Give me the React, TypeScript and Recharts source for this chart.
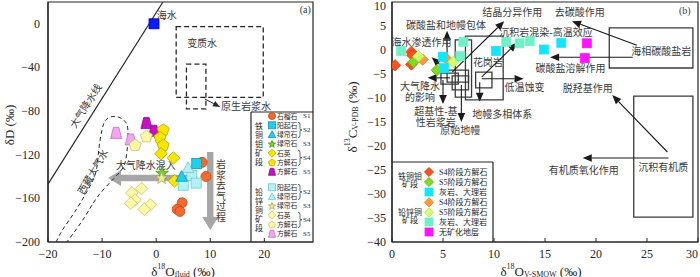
import React from 'react';
import {
  ScatterChart, Scatter, XAxis, YAxis, ReferenceLine, ReferenceArea, ReferenceDot, Customized,
} from 'recharts';

const SERIF = "'Liberation Serif', 'DejaVu Serif', serif";
const CN = "'Liberation Serif', 'Noto Sans CJK SC', sans-serif";
const INK = '#262626';
const TXT = '#3a3a3a';

// ---------------- Panel (a): δD vs δ18O fluid ----------------
const leftXDomain = [-20, 29];
const leftYDomain = [-200, 20];
const leftXTicks = [-20, -10, 0, 10, 20];
const leftYTicks = [-200, -160, -120, -80, -40, 0];

const seaWater = [{ x: -0.4, y: 0 }];
const feGarnetS1 = [{ x: 8.5, y: -127 }, { x: 9.2, y: -140 }, { x: 4.8, y: -164 }, { x: 3.9, y: -170 }, { x: 4.4, y: -172 }];
const feActinoliteS2 = [{ x: 7.5, y: -128 }];
const feEpidoteS2 = [{ x: 4.7, y: -140 }];
const feEpidoteS3 = [{ x: 1.1, y: -136.5 }];
const feQuartzS4 = [{ x: 0.9, y: -119 }, { x: 3.2, y: -123 }, { x: 3.4, y: -144 }];
const feCalciteS4 = [{ x: 1.3, y: -97 }, { x: 0.7, y: -104 }, { x: 1.3, y: -111 }];
const feCalciteS5 = [{ x: -1.8, y: -91 }, { x: -0.4, y: -98 }];
const pbActinoliteS2 = [{ x: 6.6, y: -139 }, { x: 5.0, y: -148 }, { x: 7.4, y: -146 }];
const pbEpidoteS2 = [{ x: 5.9, y: -132 }];
const pbEpidoteS3 = [{ x: 1.0, y: -141 }];
const pbQuartzS4 = [{ x: -2.7, y: -151 }, { x: -4.5, y: -155 }, { x: -3.9, y: -161.5 }, { x: -4.7, y: -164.5 }, { x: -1.1, y: -166 }, { x: -2.2, y: -170 }];
const pbCalciteS4 = [{ x: -1.8, y: -103 }, { x: -3.9, y: -111 }];
const pbCalciteS5 = [{ x: -7.4, y: -100 }, { x: -4.7, y: -106 }];

const tibetCurve = [
  { x: -18.5, y: -200 }, { x: -17.2, y: -188 }, { x: -15.0, y: -172 }, { x: -12.6, y: -152 },
  { x: -11.1, y: -135 }, { x: -10.6, y: -115 }, { x: -10.0, y: -97 }, { x: -9.3, y: -88 },
  { x: -8.0, y: -85 }, { x: -6.7, y: -86 }, { x: -5.6, y: -90.5 }, { x: -5.2, y: -101.5 },
  { x: -5.6, y: -124 }, { x: -7.1, y: -138 }, { x: -10.6, y: -157 }, { x: -13.2, y: -177 }, { x: -16.5, y: -200 },
];
const meteoricLine = [{ x: -20, y: -147 }, { x: 1.25, y: 20 }];
const leftDashedBoxes = [
  { x1: 3.7, x2: 19.8, y1: -67.5, y2: -2.5 },
  { x1: 5.6, x2: 9.2, y1: -78, y2: -37 },
];
const leftThinArrows = [{ x1: 9.0, y1: -68.9, x2: 11.8, y2: -76.2 }];
const leftBlockArrows = [
  { x1: 5.7, y1: -141.3, x2: -8.9, y2: -141.3 },
  { x1: 10.0, y1: -117.5, x2: 10.0, y2: -189 },
];
const leftTexts = [
  { t: '海水', x: 0.1, y: 8, anchor: 'start', rot: 0 },
  { t: '变质水', x: 8.5, y: -17.6, anchor: 'middle', rot: 0 },
  { t: '原生岩浆水', x: 12.0, y: -76.2, anchor: 'start', rot: 0 },
  { t: '大气降水线', x: -13.0, y: -75.3, anchor: 'middle', rot: -57.6 },
  { t: '西藏大气水', x: -11.7, y: -135.8, anchor: 'middle', rot: -60 },
  { t: '大气降水混入', x: -1.9, y: -130.3, anchor: 'middle', rot: 0 },
  { t: '(a)', x: 28.6, y: 12.7, anchor: 'end', rot: 0 },
];
const degassingText = { t: '岩浆去气过程', x: 12.0, y: -153.3 };

// ---------------- Panel (b): δ13C vs δ18O ----------------
const rightXDomain = [0, 30];
const rightYDomain = [-40, 10];
const rightXTicks = [0, 5, 10, 15, 20, 25, 30];
const rightYTicks = [-40, -35, -30, -25, -20, -15, -10, -5, 0, 5, 10];

const feS4Calcite = [{ x: 0.3, y: -3.2 }, { x: 1.9, y: -0.4 }, { x: 2.0, y: -1.1 }, { x: 1.9, y: -3.0 }];
const feS5Calcite = [{ x: 2.1, y: -2.5 }, { x: 4.4, y: -4.2 }];
const feLimestone = [{ x: 5.0, y: -1.4 }, { x: 5.1, y: -3.8 }, { x: 10.2, y: -0.2 }, { x: 14.9, y: 0.1 }, { x: 16.6, y: 1.5 }];
const pbS4Calcite = [{ x: 3.0, y: -2.0 }, { x: 5.4, y: -2.0 }];
const pbS5Calcite = [{ x: 2.6, y: -1.3 }, { x: 6.0, y: -2.5 }];
const pbLimestone = [{ x: 0.9, y: -0.2 }, { x: 6.7, y: -1.3 }, { x: 7.0, y: 1.7 }, { x: 11.2, y: 1.7 }, { x: 12.5, y: 1.4 }, { x: 13.5, y: 1.9 }];
const barrenStrata = [{ x: 19.1, y: 1.4 }, { x: 18.9, y: -1.7 }];

const rightBoxes = [
  { x1: 21.3, x2: 29.5, y1: -3.75, y2: 4.6 },
  { x1: 23.7, x2: 29.5, y1: -34.8, y2: -9.6 },
  { x1: 7.2, x2: 10.9, y1: -10.4, y2: 2.9 },
  { x1: 6.2, x2: 7.8, y1: -9.8, y2: 2.1 },
  { x1: 4.8, x2: 6.5, y1: -7.1, y2: -4.8 },
  { x1: 5.4, x2: 7.5, y1: -6.7, y2: -4.2 },
  { x1: 5.9, x2: 7.5, y1: -8.3, y2: -5.4 },
  { x1: 8.2, x2: 9.8, y1: -7.9, y2: -4.6 },
];
const rightArrows = [
  { x1: 5.4, y1: -4.2, x2: 5.4, y2: 4.0 },
  { x1: 5.5, y1: -4.6, x2: 3.9, y2: -1.5 },
  { x1: 5.7, y1: -5.8, x2: 3.5, y2: -5.8 },
  { x1: 5.0, y1: -6.25, x2: 5.0, y2: -11.25 },
  { x1: 6.8, y1: -7.3, x2: 6.8, y2: -15.0 },
  { x1: 8.6, y1: -6.7, x2: 8.6, y2: -10.8 },
  { x1: 5.9, y1: -4.6, x2: 11.0, y2: 6.0 },
  { x1: 8.8, y1: -5.6, x2: 12.25, y2: 1.5 },
  { x1: 8.8, y1: -6.0, x2: 12.9, y2: -6.0 },
  { x1: 24.0, y1: 1.0, x2: 17.65, y2: 6.0 },
  { x1: 23.6, y1: -1.5, x2: 15.5, y2: -1.5 },
  { x1: 27.0, y1: -21.25, x2: 21.6, y2: -9.4 },
  { x1: 27.1, y1: -22.5, x2: 18.7, y2: -22.5 },
];
const rightTexts = [
  { t: '碳酸盐和地幔包体', x: 5.3, y: 5.2 },
  { t: '结晶分异作用', x: 11.8, y: 7.9 },
  { t: '去碳酸作用', x: 18.4, y: 7.9 },
  { t: '沉积岩混染-高温效应', x: 15.1, y: 3.75 },
  { t: '海水渗透作用', x: 2.9, y: 1.5 },
  { t: '海相碳酸盐岩', x: 26.4, y: -0.4 },
  { t: '花岗岩', x: 9.4, y: -2.5 },
  { t: '碳酸盐溶解作用', x: 17.5, y: -3.75 },
  { t: '低温蚀变', x: 13.0, y: -7.9 },
  { t: '脱羟基作用', x: 19.2, y: -8.1 },
  { t: '大气降水', x: 2.75, y: -7.7 },
  { t: '的影响', x: 2.75, y: -9.8 },
  { t: '超基性-基', x: 4.3, y: -12.9 },
  { t: '性岩浆岩', x: 4.3, y: -15.0 },
  { t: '地幔多相体系', x: 10.8, y: -13.5 },
  { t: '原始地幔', x: 6.7, y: -16.7 },
  { t: '有机质氧化作用', x: 18.8, y: -25.0 },
  { t: '沉积有机质', x: 26.6, y: -24.4 },
  { t: '(b)', x: 28.7, y: 8.3 },
];

// ---------------- styles ----------------
const ST = {
  sea: { kind: 'square', fill: '#0a1cff', stroke: '#0000a0', size: 10 },
  garnet: { kind: 'circle', fill: '#f26a2e', stroke: '#c0441a', size: 10 },
  feCyanSq: { kind: 'square', fill: '#1fd0ea', stroke: '#0a9ab5', size: 10 },
  feCyanTri: { kind: 'triangle', fill: '#1fd0ea', stroke: '#0a9ab5', size: 11 },
  feStar: { kind: 'star', fill: '#7bd321', stroke: '#4a9010', size: 12 },
  feDia: { kind: 'diamond', fill: '#f7e600', stroke: '#b8a800', size: 11 },
  fePent: { kind: 'pentagon', fill: '#f7e600', stroke: '#b8a800', size: 12 },
  feTrap: { kind: 'trapezoid', fill: '#c412c4', stroke: '#8a0a8a', size: 11 },
  pbCyanSq: { kind: 'square', fill: '#b2f1f5', stroke: '#6fc8d0', size: 10 },
  pbCyanTri: { kind: 'triangle', fill: '#b2f1f5', stroke: '#6fc8d0', size: 11 },
  pbStar: { kind: 'star', fill: '#eaea9a', stroke: '#a8a860', size: 12 },
  pbDia: { kind: 'diamond', fill: '#fdf7a6', stroke: '#c8c070', size: 11 },
  pbPent: { kind: 'pentagon', fill: '#fdf7a6', stroke: '#c8c070', size: 12 },
  pbTrap: { kind: 'trapezoid', fill: '#f3a6ef', stroke: '#c070c0', size: 11 },
  rFeS4: { kind: 'diamond', fill: '#f4531f', stroke: '#d04010', size: 10 },
  rFeS5: { kind: 'diamond', fill: '#7fdc1c', stroke: '#60b010', size: 10 },
  rFeLime: { kind: 'square', fill: '#12e6ff', stroke: '#12e6ff', size: 9 },
  rPbS4: { kind: 'diamond', fill: '#ff9a3c', stroke: '#e08020', size: 10 },
  rPbS5: { kind: 'diamond', fill: '#d4ff70', stroke: '#b0e050', size: 10 },
  rPbLime: { kind: 'square', fill: '#70f0c8', stroke: '#70f0c8', size: 9 },
  rBarren: { kind: 'square', fill: '#ff14ff', stroke: '#ff14ff', size: 9 },
};

const leftSeries = [
  { data: seaWater, st: ST.sea },
  { data: feCalciteS5, st: ST.feTrap },
  { data: pbCalciteS5, st: ST.pbTrap },
  { data: pbCalciteS4, st: ST.pbPent },
  { data: feCalciteS4, st: ST.fePent },
  { data: pbQuartzS4, st: ST.pbDia },
  { data: feQuartzS4, st: ST.feDia },
  { data: feGarnetS1, st: ST.garnet },
  { data: pbActinoliteS2, st: ST.pbCyanSq },
  { data: pbEpidoteS2, st: ST.pbCyanTri },
  { data: feActinoliteS2, st: ST.feCyanSq },
  { data: feEpidoteS2, st: ST.feCyanTri },
  { data: feEpidoteS3, st: ST.feStar },
  { data: pbEpidoteS3, st: ST.pbStar },
];
const rightSeries = [
  { data: feS4Calcite, st: ST.rFeS4 },
  { data: feS5Calcite, st: ST.rFeS5 },
  { data: pbS4Calcite, st: ST.rPbS4 },
  { data: pbS5Calcite, st: ST.rPbS5 },
  { data: feLimestone, st: ST.rFeLime },
  { data: pbLimestone, st: ST.rPbLime },
  { data: barrenStrata, st: ST.rBarren },
];

function marker(st: any, cx: number, cy: number, sizeOverride?: number) {
  const s = sizeOverride ?? st.size;
  const h = s / 2;
  const common = { fill: st.fill, stroke: st.stroke, strokeWidth: 0.8 };
  const poly = (pts: number[][]) => <polygon points={pts.map((p) => p.join(',')).join(' ')} {...common} />;
  switch (st.kind) {
    case 'circle':
      return <circle cx={cx} cy={cy} r={h} {...common} />;
    case 'square':
      return <rect x={cx - h} y={cy - h} width={s} height={s} {...common} />;
    case 'triangle':
      return poly([[cx, cy - h * 1.1], [cx + h * 1.05, cy + h * 0.85], [cx - h * 1.05, cy + h * 0.85]]);
    case 'diamond':
      return poly([[cx, cy - h * 1.15], [cx + h * 1.15, cy], [cx, cy + h * 1.15], [cx - h * 1.15, cy]]);
    case 'trapezoid':
      return poly([[cx - h * 0.5, cy - h], [cx + h * 0.5, cy - h], [cx + h, cy + h], [cx - h, cy + h]]);
    case 'pentagon': {
      const pts = [];
      for (let i = 0; i < 5; i++) {
        const a = -Math.PI / 2 + (i * 2 * Math.PI) / 5;
        pts.push([cx + h * 1.05 * Math.cos(a), cy + h * 1.05 * Math.sin(a) + h * 0.08]);
      }
      return poly(pts);
    }
    case 'star': {
      const pts = [];
      for (let i = 0; i < 10; i++) {
        const a = -Math.PI / 2 + (i * Math.PI) / 5;
        const r = i % 2 === 0 ? h * 1.1 : h * 0.45;
        pts.push([cx + r * Math.cos(a), cy + r * Math.sin(a) + h * 0.1]);
      }
      return poly(pts);
    }
    default:
      return <circle cx={cx} cy={cy} r={h} {...common} />;
  }
}

const fmt = (v: number) => (v < 0 ? '\u2212' + Math.abs(v) : String(v));

const makeXTick = (maxX: number) => (p: any) => {
  const { x, y, payload } = p;
  const tx = Math.min(x, maxX);
  return (
    <g>
      <line x1={x} x2={x} y1={y} y2={y - 4} stroke={INK} strokeWidth={1} />
      <text x={tx} y={y + 12} textAnchor="middle" dominantBaseline="central" fontSize={12} fontFamily={SERIF} fill={INK}>
        {fmt(payload.value)}
      </text>
    </g>
  );
};
const makeYTick = (gap: number) => (p: any) => {
  const { x, y, payload } = p;
  return (
    <text x={x - gap} y={Math.max(y, 6)} textAnchor="end" dominantBaseline="central" fontSize={12} fontFamily={SERIF} fill={INK}>
      {fmt(payload.value)}
    </text>
  );
};

const textShape = (t: string, anchor = 'middle', rot = 0, size = 10) => (p: any) => (
  <text
    x={p.cx}
    y={p.cy}
    textAnchor={anchor as any}
    dominantBaseline="central"
    fontSize={size}
    fontFamily={CN}
    fill={TXT}
    transform={rot ? `rotate(${rot} ${p.cx} ${p.cy})` : undefined}
  >
    {t}
  </text>
);

const verticalTextShape = (t: string) => (p: any) => (
  <g>
    {t.split('').map((c, i) => (
      <text key={i} x={p.cx} y={p.cy + (i - (t.length - 1) / 2) * 10.5} textAnchor="middle" dominantBaseline="central" fontSize={10} fontFamily={CN} fill={TXT}>
        {c}
      </text>
    ))}
  </g>
);

const thinArrow = (headLen: number, headHalf: number, color: string, width: number) => (p: any) => {
  const { x1, y1, x2, y2 } = p;
  const dx = x2 - x1;
  const dy = y2 - y1;
  const L = Math.hypot(dx, dy) || 1;
  const ux = dx / L;
  const uy = dy / L;
  const bx = x2 - ux * headLen;
  const by = y2 - uy * headLen;
  const nx = -uy;
  const ny = ux;
  return (
    <g>
      <line x1={x1} y1={y1} x2={bx} y2={by} stroke={color} strokeWidth={width} />
      <polygon points={`${x2},${y2} ${bx + nx * headHalf},${by + ny * headHalf} ${bx - nx * headHalf},${by - ny * headHalf}`} fill={color} />
    </g>
  );
};

const blockArrow = (color: string) => (p: any) => {
  const { x1, y1, x2, y2 } = p;
  const dx = x2 - x1;
  const dy = y2 - y1;
  const L = Math.hypot(dx, dy) || 1;
  const ux = dx / L;
  const uy = dy / L;
  const nx = -uy;
  const ny = ux;
  const hl = 13;
  const hw = 8;
  const sw = 3.2;
  const bx = x2 - ux * hl;
  const by = y2 - uy * hl;
  const pts = [
    [x1 + nx * sw, y1 + ny * sw], [bx + nx * sw, by + ny * sw], [bx + nx * hw, by + ny * hw], [x2, y2],
    [bx - nx * hw, by - ny * hw], [bx - nx * sw, by - ny * sw], [x1 - nx * sw, y1 - ny * sw],
  ];
  return <polygon points={pts.map((q) => q.join(',')).join(' ')} fill={color} />;
};

const plainLine = (color: string, width: number) => (p: any) => (
  <line x1={p.x1} y1={p.y1} x2={p.x2} y2={p.y2} stroke={color} strokeWidth={width} />
);

// ---------------- legends / titles (overlay inside chart svg) ----------------
const brace = (bx: number, top: number, bot: number) => {
  const mid = (top + bot) / 2;
  return (
    <path
      d={`M${bx},${top} Q${bx + 2},${top} ${bx + 2},${top + 2} L${bx + 2},${mid - 1} Q${bx + 2},${mid} ${bx + 4},${mid} Q${bx + 2},${mid} ${bx + 2},${mid + 1} L${bx + 2},${bot - 2} Q${bx + 2},${bot} ${bx},${bot}`}
      fill="none"
      stroke={INK}
      strokeWidth={0.7}
    />
  );
};

const LeftOverlay = () => {
  const fe = [
    { st: ST.garnet, t: '石榴石' }, { st: ST.feCyanSq, t: '阳起石' }, { st: ST.feCyanTri, t: '绿帘石' },
    { st: ST.feStar, t: '绿帘石' }, { st: ST.feDia, t: '石英' }, { st: ST.fePent, t: '方解石' }, { st: ST.feTrap, t: '方解石' },
  ];
  const pb = [
    { st: ST.pbCyanSq, t: '阳起石' }, { st: ST.pbCyanTri, t: '绿帘石' }, { st: ST.pbStar, t: '绿帘石' },
    { st: ST.pbDia, t: '石英' }, { st: ST.pbPent, t: '方解石' }, { st: ST.pbTrap, t: '方解石' },
  ];
  const step = 9.3;
  const feY = fe.map((_, i) => 116 + i * step);
  const pbY = pb.map((_, i) => 187.3 + i * step);
  const mx = 272;
  const tx = 277;
  const sx = 303;
  const small = (x: number, y: number, t: string) => (
    <text x={x} y={y} dominantBaseline="central" fontSize={7} fontFamily={SERIF} fill={INK}>{t}</text>
  );
  const row = (r: any, y: number, k: string) => (
    <g key={k}>
      {marker(r.st, mx, y, 7)}
      <text x={tx} y={y} dominantBaseline="central" fontSize={6.8} fontFamily={CN} fill={INK}>{r.t}</text>
    </g>
  );
  const vtext = (t: string, x: number, cy: number) =>
    t.split('').map((c, i) => (
      <text key={t + i} x={x} y={cy + (i - 2) * 9} textAnchor="middle" dominantBaseline="central" fontSize={8} fontFamily={CN} fill={INK}>{c}</text>
    ));
  return (
    <g>
      <line x1={251} y1={112} x2={313} y2={112} stroke={INK} strokeWidth={1.2} />
      <line x1={251} y1={112} x2={251} y2={242} stroke={INK} strokeWidth={1.2} />
      {vtext('铁铜钼矿段', 259, 144)}
      {vtext('铅锌铜矿段', 259, 210.5)}
      {fe.map((r, i) => row(r, feY[i], 'f' + i))}
      {pb.map((r, i) => row(r, pbY[i], 'p' + i))}
      {small(sx, feY[0], 'S1')}
      {brace(298, feY[1] - 3, feY[2] + 3)}
      {small(sx, (feY[1] + feY[2]) / 2, 'S2')}
      {small(sx, feY[3], 'S3')}
      {brace(298, feY[4] - 3, feY[5] + 3)}
      {small(sx, (feY[4] + feY[5]) / 2, 'S4')}
      {small(sx, feY[6], 'S5')}
      {brace(298, pbY[0] - 3, pbY[1] + 3)}
      {small(sx, (pbY[0] + pbY[1]) / 2, 'S2')}
      {small(sx, pbY[2], 'S3')}
      {brace(298, pbY[3] - 3, pbY[4] + 3)}
      {small(sx, (pbY[3] + pbY[4]) / 2, 'S4')}
      {small(sx, pbY[5], 'S5')}
      <text x={183} y={271} textAnchor="middle" dominantBaseline="central" fontSize={13} fontFamily={SERIF} fill={INK}>
        <tspan>δ</tspan>
        <tspan fontSize={8} dy={-5}>18</tspan>
        <tspan dy={5}>O</tspan>
        <tspan fontSize={8} dy={3}>fluid</tspan>
        <tspan dy={-3}> (‰)</tspan>
      </text>
      <text x={9} y={125} textAnchor="middle" dominantBaseline="central" fontSize={13} fontFamily={SERIF} fill={INK} transform="rotate(-90 9 125)">
        δD (‰)
      </text>
    </g>
  );
};

const RightOverlay = () => {
  const rows = [
    { st: ST.rFeS4, t: 'S4阶段方解石' }, { st: ST.rFeS5, t: 'S5阶段方解石' }, { st: ST.rFeLime, t: '灰岩、大理岩' },
    { st: ST.rPbS4, t: 'S4阶段方解石' }, { st: ST.rPbS5, t: 'S5阶段方解石' }, { st: ST.rPbLime, t: '灰岩、大理岩' },
    { st: ST.rBarren, t: '无矿化地层' },
  ];
  const ys = [172, 182, 192, 202.3, 212.3, 222, 232];
  const g = (t: string, y: number) => (
    <text x={70} y={y} textAnchor="middle" dominantBaseline="central" fontSize={8} fontFamily={CN} fill={INK}>{t}</text>
  );
  return (
    <g>
      <line x1={52} y1={162} x2={153} y2={162} stroke={INK} strokeWidth={1.2} />
      <line x1={153} y1={162} x2={153} y2={242} stroke={INK} strokeWidth={1.2} />
      {g('铁铜钼', 176)}
      {g('矿段', 184.5)}
      {g('铅锌铜', 212)}
      {g('矿段', 220.5)}
      {rows.map((r, i) => (
        <g key={i}>
          {marker(r.st, 89, ys[i], 8)}
          <text x={99} y={ys[i]} dominantBaseline="central" fontSize={8} fontFamily={CN} fill={INK}>{r.t}</text>
        </g>
      ))}
      <text x={201} y={271} textAnchor="middle" dominantBaseline="central" fontSize={13} fontFamily={SERIF} fill={INK}>
        <tspan>δ</tspan>
        <tspan fontSize={8} dy={-5}>18</tspan>
        <tspan dy={5}>O</tspan>
        <tspan fontSize={8} dy={3}>V-SMOW</tspan>
        <tspan dy={-3}> (‰)</tspan>
      </text>
      <text x={12} y={117} textAnchor="middle" dominantBaseline="central" fontSize={13} fontFamily={SERIF} fill={INK} transform="rotate(-90 12 117)">
        <tspan>δ</tspan>
        <tspan fontSize={8} dy={-5}>13</tspan>
        <tspan dy={5}>C</tspan>
        <tspan fontSize={8} dy={3}>V-PDB</tspan>
        <tspan dy={-3}> (‰)</tspan>
      </text>
    </g>
  );
};

export default function App() {
  return (
    <div style={{ position: 'absolute', left: 0, top: 0, width: 700, height: 277, background: '#fff' }}>
      <div style={{ position: 'absolute', left: 0, top: 0 }}>
        <ScatterChart width={320} height={277} margin={{ top: 2, right: 7, bottom: 15, left: 8 }}>
          <XAxis type="number" dataKey="x" domain={leftXDomain} ticks={leftXTicks} interval={0} allowDataOverflow
            tickSize={0} tickMargin={0} tickLine={false} tick={makeXTick(1000)} axisLine={{ stroke: INK, strokeWidth: 1.2 }} height={20} />
          <YAxis type="number" dataKey="y" domain={leftYDomain} ticks={leftYTicks} interval={0} allowDataOverflow
            tickSize={0} tickMargin={0} tickLine={false} tick={makeYTick(8)} axisLine={{ stroke: INK, strokeWidth: 1.2 }} width={40} />
          <ReferenceArea x1={leftXDomain[0]} x2={leftXDomain[1]} y1={leftYDomain[0]} y2={leftYDomain[1]} fill="none" fillOpacity={0} stroke={INK} strokeWidth={1.2} ifOverflow="visible" />
          {leftDashedBoxes.map((b, i) => (
            <ReferenceArea key={'db' + i} x1={b.x1} x2={b.x2} y1={b.y1} y2={b.y2} fill="none" fillOpacity={0} stroke={INK} strokeWidth={1.3} strokeDasharray="5 3" ifOverflow="visible" />
          ))}
          <ReferenceLine segment={meteoricLine} ifOverflow="visible" shape={plainLine(INK, 1.2)} />
          {leftThinArrows.map((a, i) => (
            <ReferenceLine key={'ta' + i} segment={[{ x: a.x1, y: a.y1 }, { x: a.x2, y: a.y2 }]} ifOverflow="visible" shape={thinArrow(7, 3, INK, 1)} />
          ))}
          {leftBlockArrows.map((a, i) => (
            <ReferenceLine key={'ba' + i} segment={[{ x: a.x1, y: a.y1 }, { x: a.x2, y: a.y2 }]} ifOverflow="visible" shape={blockArrow('#a6a6a6')} />
          ))}
          {leftTexts.map((t, i) => (
            <ReferenceDot key={'lt' + i} x={t.x} y={t.y} r={0} ifOverflow="visible" shape={textShape(t.t, t.anchor, t.rot)} />
          ))}
          <ReferenceDot x={degassingText.x} y={degassingText.y} r={0} ifOverflow="visible" shape={verticalTextShape(degassingText.t)} />
          <Scatter data={tibetCurve} isAnimationActive={false} line={{ stroke: INK, strokeWidth: 1, strokeDasharray: '4 3' }} lineJointType="natural" shape={() => <g />} />
          {leftSeries.map((s, i) => (
            <Scatter key={'ls' + i} data={s.data} isAnimationActive={false} shape={(p: any) => marker(s.st, p.cx, p.cy)} />
          ))}
          <Customized component={<LeftOverlay />} />
        </ScatterChart>
      </div>
      <div style={{ position: 'absolute', left: 340, top: 0 }}>
        <ScatterChart width={360} height={277} margin={{ top: 2, right: 2, bottom: 15, left: 12 }}>
          <XAxis type="number" dataKey="x" domain={rightXDomain} ticks={rightXTicks} interval={0} allowDataOverflow
            tickSize={0} tickMargin={0} tickLine={false} tick={makeXTick(352)} axisLine={{ stroke: INK, strokeWidth: 1.2 }} height={20} />
          <YAxis type="number" dataKey="y" domain={rightYDomain} ticks={rightYTicks} interval={0} allowDataOverflow
            tickSize={0} tickMargin={0} tickLine={false} tick={makeYTick(6)} axisLine={{ stroke: INK, strokeWidth: 1.2 }} width={40} />
          <ReferenceArea x1={rightXDomain[0]} x2={rightXDomain[1]} y1={rightYDomain[0]} y2={rightYDomain[1]} fill="none" fillOpacity={0} stroke={INK} strokeWidth={1.2} ifOverflow="visible" />
          {rightBoxes.map((b, i) => (
            <ReferenceArea key={'rb' + i} x1={b.x1} x2={b.x2} y1={b.y1} y2={b.y2} fill="none" fillOpacity={0} stroke="#3a3a3a" strokeWidth={1.3} ifOverflow="visible" />
          ))}
          {rightArrows.map((a, i) => (
            <ReferenceLine key={'ra' + i} segment={[{ x: a.x1, y: a.y1 }, { x: a.x2, y: a.y2 }]} ifOverflow="visible" shape={thinArrow(9, 3.8, '#1a1a1a', 1.1)} />
          ))}
          {rightTexts.map((t, i) => (
            <ReferenceDot key={'rt' + i} x={t.x} y={t.y} r={0} ifOverflow="visible" shape={textShape(t.t)} />
          ))}
          {rightSeries.map((s, i) => (
            <Scatter key={'rs' + i} data={s.data} isAnimationActive={false} shape={(p: any) => marker(s.st, p.cx, p.cy)} />
          ))}
          <Customized component={<RightOverlay />} />
        </ScatterChart>
      </div>
    </div>
  );
}
